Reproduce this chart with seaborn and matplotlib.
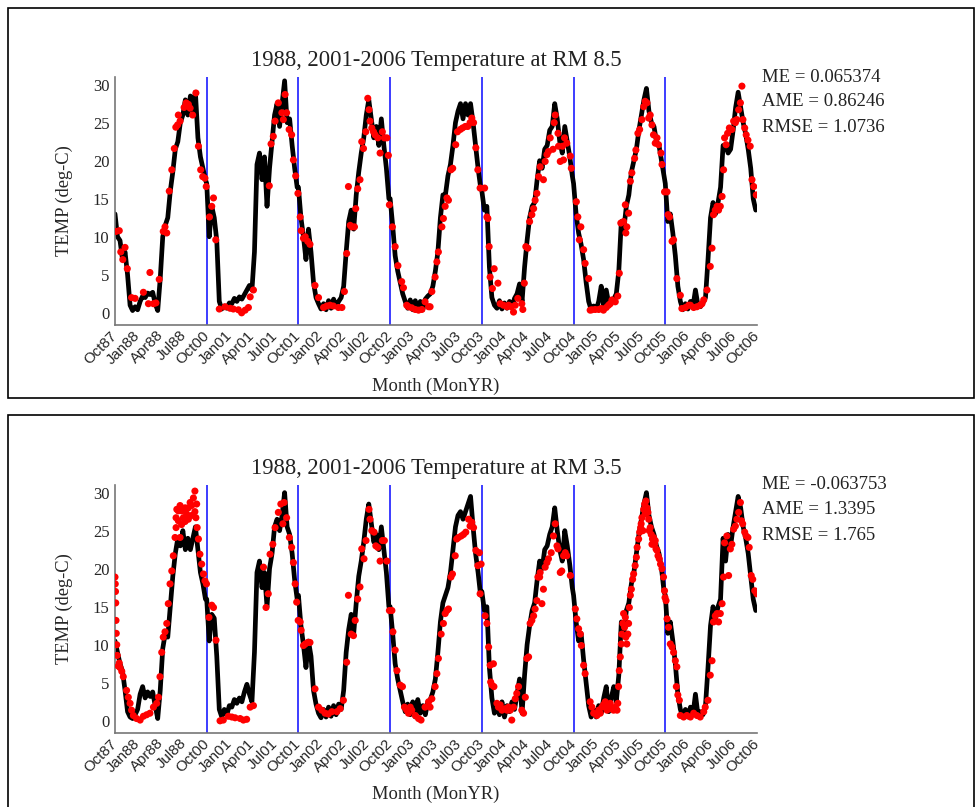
import pandas as pd
import matplotlib
matplotlib.use("Agg")
import matplotlib.pyplot as plt
import seaborn as sns
from matplotlib.patches import Rectangle

# water years shown side by side (Oct-Sep), black line sampled every 10 days
water_years = ['1988', '2001', '2002', '2003', '2004', '2005', '2006']
tick_labels = ['Oct87', 'Jan88', 'Apr88', 'Jul88',
               'Oct00', 'Jan01', 'Apr01', 'Jul01',
               'Oct01', 'Jan02', 'Apr02', 'Jul02',
               'Oct02', 'Jan03', 'Apr03', 'Jul03',
               'Oct03', 'Jan04', 'Apr04', 'Jul04',
               'Oct04', 'Jan05', 'Apr05', 'Jul05',
               'Oct05', 'Jan06', 'Apr06', 'Jul06', 'Oct06']

# ---- RM 8.5 modelled temperature
rm85_1988 = [13, 10, 9.5, 7, 8, 5, 1, 0.3, 0.8, 0.4, 1.5, 2.2, 2, 2.6, 2.4, 2.7, 1.2, 0.3, 4.5, 10,
             11.5, 12.5, 16, 18.5, 21.5, 22.5, 25, 26, 28, 26, 28.5, 26.5, 29, 23, 20.5, 19, 17.5]
rm85_2001 = [17, 10, 14, 12.5, 9.5, 1.5, 0.5, 0.9, 0.6, 1.3, 1.2, 1.9, 1.5, 2.1, 1.8, 2.4, 3, 3.6, 3, 8,
             19.5, 21, 17.5, 20.5, 14, 19, 22.5, 26, 27.5, 24.5, 27.5, 30.5, 25, 25.5, 22, 19, 16.5]
rm85_2002 = [16.5, 12.5, 10, 7, 11, 8, 4, 2, 1.2, 0.5, 1.2, 0.4, 1.6, 0.6, 1.8, 0.8, 1.5, 2, 3.5, 8,
             12, 13.5, 11, 15.5, 18.5, 21, 23, 26, 28, 25.5, 23, 24.5, 22, 25.5, 22, 19, 15]
rm85_2003 = [15, 11.5, 7.5, 5.5, 4, 2.5, 1.5, 0.6, 1.7, 0.4, 1.6, 0.6, 1.5, 0.4, 1.8, 2.2, 2.5, 3.5, 5.5, 8,
             12.5, 15.5, 15.5, 18, 19.5, 22, 25, 26.5, 27.5, 25.5, 27.5, 26, 27.5, 25, 22, 19, 16.5]
rm85_2004 = [16, 13.5, 14, 6, 2, 1, 0.6, 1.6, 0.5, 1.3, 0.6, 1.5, 0.8, 1.9, 2.5, 3.8, 1.5, 6, 9.5, 12.5,
             14, 14.5, 17.5, 20, 19, 21.5, 22, 24, 24.5, 27.5, 25.5, 22.5, 21, 24.5, 22.5, 20.5, 18]
rm85_2005 = [17, 13, 10.5, 9, 7, 4, 1.5, 0.4, 0.9, 0.4, 1.5, 3.5, 1, 3, 1.2, 1.5, 1.8, 2.5, 5.5, 12,
             11, 14, 15.5, 18.5, 20, 21.5, 24, 26, 28, 29.5, 26.5, 25, 24.5, 22.5, 22, 20, 18]
rm85_2006 = [17, 12, 13, 10.5, 7.5, 3.5, 1.5, 0.4, 1.2, 0.5, 1.5, 0.8, 3, 1, 0.8, 1.3, 2, 7, 12.5, 14.5,
             13, 14.5, 16.5, 22, 22, 21, 21.5, 24, 27, 29, 27, 25, 23.5, 21.5, 19, 15, 13.5]

# ---- RM 8.5 observations (day of water year, temp)
rm85_obs_1988 = [(4, 10.7), (17, 10.8), (23, 8), (31, 7), (40, 8.6), (49, 5.8), (66, 2), (80, 1.9),
                 (113, 2.7), (139, 5.3), (133, 1.2), (153, 1.2), (163, 1.3), (176, 4.4), (192, 10.7),
                 (199, 11.3), (206, 10.5), (216, 16), (226, 18.8), (236, 21.6), (242, 24.4), (249, 24.7),
                 (252, 26), (259, 25.2), (275, 27), (283, 27.6), (292, 27.4), (299, 26.9), (309, 26),
                 (322, 28.9), (332, 21.9), (341, 18.8), (349, 17.9), (358, 17.7), (363, 16.6)]
rm85_obs_2001 = [(11, 12.6), (20, 14), (27, 15.1), (36, 9.6), (50, 0.5), (73, 0.8), (93, 0.6), (106, 0.5),
                 (126, 0.4), (139, 0), (153, 0.35), (166, 0.7), (173, 2.1), (186, 3), (249, 16.7),
                 (256, 22.2), (265, 23.2), (272, 25.2), (285, 27.6), (299, 26.3), (305, 25.4), (312, 28.7),
                 (318, 26.3), (328, 24.1), (338, 23.4), (345, 20.1), (354, 18), (363, 15.7)]
rm85_obs_2002 = [(7, 12.6), (11, 10.8), (20, 9.8), (27, 10), (37, 9.4), (46, 9), (66, 3.6), (80, 2),
                 (100, 0.7), (113, 0.9), (126, 1), (139, 0.9), (159, 0.7), (173, 0.7), (183, 2.8),
                 (192, 7.8), (199, 16.6), (206, 11.5), (212, 11.3), (223, 11.3), (228, 13.7), (236, 16.3),
                 (245, 17.5), (252, 22.5), (259, 21.6), (268, 23.8), (276, 28.2), (281, 26.7), (285, 25.2),
                 (292, 24.3), (299, 23.8), (305, 23.4), (316, 23), (325, 21), (334, 23.8), (342, 23),
                 (352, 23), (358, 20.7), (362, 14.2)]
rm85_obs_2003 = [(9, 11.3), (20, 8.7), (31, 6.2), (46, 4.1), (53, 3.3), (66, 1), (73, 0.8), (86, 0.66),
                 (100, 0.44), (113, 0.35), (126, 0.44), (139, 1.45), (153, 0.8), (159, 0.8), (166, 2.8),
                 (179, 4.7), (186, 6.7), (192, 8), (206, 11.3), (212, 12.4), (219, 14), (226, 15.1),
                 (232, 14.8), (242, 18.8), (249, 19), (261, 22.1), (268, 23.8), (279, 24.1), (288, 24.3),
                 (299, 24.5), (309, 24.5), (318, 25), (325, 25.6), (332, 25), (341, 21.7), (349, 18.8),
                 (358, 16.4)]
rm85_obs_2004 = [(11, 16.4), (20, 12.6), (24, 12.4), (29, 8.7), (33, 4.7), (42, 3.2), (49, 5.8), (64, 3.9),
                 (73, 1.2), (86, 1), (100, 0.8), (106, 1), (117, 0.8), (126, 0.1), (133, 1), (143, 1.9),
                 (159, 1.2), (163, 0.44), (169, 3.9), (175, 8.7), (183, 8.5), (190, 12), (199, 12.9),
                 (206, 13.7), (212, 14.8), (219, 15.7), (226, 17.9), (232, 19.2), (245, 17.5), (252, 19.9),
                 (259, 20.8), (265, 21.2), (272, 23), (283, 21.5), (288, 25), (292, 26), (303, 23.6),
                 (305, 21.9), (312, 19.9), (321, 21.9), (325, 20.1), (329, 23), (338, 22.3), (352, 20.6),
                 (356, 19)]
rm85_obs_2005 = [(11, 14.6), (17, 12.6), (23, 9.6), (29, 11.3), (40, 8.3), (46, 6.5), (60, 4.5), (66, 0.35),
                 (73, 0.4), (86, 0.44), (100, 0.44), (110, 0.57), (119, 0.35), (130, 0.7), (139, 1),
                 (146, 1.2), (153, 1.7), (166, 1.45), (176, 2.2), (182, 5.2), (188, 11.8), (199, 12),
                 (206, 14.2), (208, 10.5), (212, 11.3), (219, 13.1), (226, 17.3), (232, 18.4), (243, 20.3),
                 (248, 21.4), (256, 23.6), (263, 24.1), (272, 25.4), (279, 27.1), (285, 27.8), (292, 27.6),
                 (299, 25.6), (305, 26), (312, 24.7), (318, 23.4), (325, 22.3), (332, 23), (338, 22.1),
                 (348, 21), (352, 19.5), (362, 15.9)]
rm85_obs_2006 = [(7, 15.9), (11, 12.9), (17, 12.6), (27, 9.4), (33, 9.6), (46, 4.5), (60, 2.3), (66, 0.57),
                 (80, 0.7), (93, 1), (100, 1), (113, 0.7), (126, 0.8), (139, 1), (146, 1.2), (153, 1.7),
                 (166, 3), (179, 6.1), (186, 8.5), (192, 12.9), (199, 13.5), (206, 14), (212, 13.5),
                 (219, 14), (226, 15.3), (232, 18.8), (236, 23), (242, 22.1), (248, 23.6), (255, 24.3),
                 (265, 24.1), (272, 25.2), (279, 25), (285, 25.4), (292, 26.7), (299, 27.6), (305, 29.8),
                 (309, 25.4), (316, 24.3), (322, 23.4), (329, 22.7), (338, 21.9), (345, 17.5), (352, 16.6),
                 (362, 15.5)]

# ---- RM 3.5 modelled temperature
rm35_1988 = [10.5, 9, 7.5, 6.5, 4, 1.2, 0.5, 0.3, 0.8, 1.5, 3.5, 4.5, 3, 3.8, 3.2, 3.8, 2, 0.3, 4, 9.5,
             11.5, 11, 15, 19, 22, 24, 23, 25, 22.5, 24, 22.5, 24, 25.5, 22.5, 19.5, 18, 16]
rm35_2001 = [16, 10.5, 14, 13.5, 8.5, 1.5, 0.5, 1.5, 0.8, 2, 1.8, 2.8, 2.3, 3, 2.5, 3.8, 4.8, 3.5, 2.5, 9,
             19.5, 21, 17.5, 19.5, 15, 20, 22, 25.5, 26.5, 25, 27, 30, 25.5, 24.5, 22, 18.5, 16]
rm35_2002 = [16.5, 12.5, 10, 7, 10.5, 8.5, 4, 2.2, 1, 0.4, 1.5, 0.5, 1.8, 0.6, 2, 0.8, 2.2, 1.5, 4, 9,
             12, 14, 11.5, 15.5, 19, 21, 23.5, 26.5, 28.5, 26, 23.5, 24.5, 22.5, 25.5, 22.5, 19.5, 15]
rm35_2003 = [15, 11.5, 7.5, 5.5, 4, 2.5, 1.2, 2.2, 0.8, 2.5, 0.5, 2.8, 1, 2, 0.8, 2.5, 2.8, 3.8, 5.5, 9,
             13, 15.5, 16.5, 17.5, 19.5, 22.5, 25.5, 27, 27.5, 26.5, 27.5, 28.5, 29.5, 25.5, 22, 19.5, 16.5]
rm35_2004 = [17, 14.5, 15, 7, 3, 1, 2, 0.8, 2.5, 0.5, 2, 1.2, 2.5, 1.5, 3.5, 5.5, 1, 6, 10, 12.5,
             14.5, 15.5, 18.5, 21, 20, 22.5, 23, 24.5, 25.5, 28, 25, 22.5, 21, 25, 23, 20.5, 17.5]
rm35_2005 = [16.5, 13, 10.5, 11.5, 8, 5, 2, 0.5, 1.5, 0.5, 2, 1, 3, 4.5, 1.2, 3, 4.5, 2.5, 6, 13,
             11.5, 14.5, 15.5, 18, 19.5, 22, 24.5, 26.5, 28.5, 30, 27, 25.5, 24.5, 23, 22, 20, 17]
rm35_2006 = [16.5, 11.5, 13, 10.5, 7.5, 3.5, 1.5, 0.5, 1.5, 0.5, 1.8, 0.8, 3.5, 0.8, 1.2, 0.8, 2, 7, 12.5, 15,
             13.5, 15, 16, 24, 21, 24.5, 23, 25.5, 27.5, 29.5, 28, 25.5, 24, 22, 19, 16, 14.5]

# ---- RM 3.5 observations (day of water year, temp)
rm35_obs_1988 = [(0, 18.9), (1, 18.0), (2, 17.0), (3, 15.5), (4, 13.2), (5, 11.5), (7, 10.0), (9, 8.6),
                 (13, 7.2), (17, 7.6), (20, 7.0), (27, 6.5), (33, 5.8), (46, 4.0), (53, 3.1), (60, 2.3),
                 (66, 1.4), (73, 0.7), (86, 0.3), (100, 0.1), (113, 0.6), (126, 0.8), (139, 1.0), (153, 1.8),
                 (166, 2.3), (173, 3.1), (179, 5.8), (186, 9.0), (192, 11.0), (199, 11.7), (206, 12.8),
                 (212, 15.4), (219, 18.0), (226, 19.7), (232, 21.7), (239, 24.1), (243, 26.7), (246, 27.8),
                 (252, 27.6), (259, 28.3), (265, 27.6), (272, 26.7), (279, 28.0), (285, 27.2), (292, 28.0),
                 (299, 28.7), (305, 28.3), (312, 29.3), (318, 30.2), (322, 26.7), (327, 25.4), (332, 23.9),
                 (338, 21.9), (345, 20.6), (352, 19.3), (358, 18.4), (364, 18.0), (243, 25.4), (252, 26.3),
                 (259, 24.1), (265, 25.8), (279, 26.2), (292, 26.5), (305, 27.0), (318, 27.5), (325, 28.5)]
rm35_obs_2001 = [(9, 13.6), (20, 15.2), (27, 14.9), (37, 10.6), (53, 0), (66, 0.1), (86, 0.6), (100, 0.5),
                 (113, 0.4), (133, 0.3), (146, 0.1), (159, 0.2), (173, 1.8), (186, 2), (226, 20.2),
                 (236, 14.9), (245, 16.7), (252, 21.9), (263, 23.2), (272, 25.4), (285, 27.4), (295, 28.5),
                 (303, 25.9), (308, 28.7), (318, 26.7), (329, 24.1), (338, 22.8), (345, 20.8), (352, 18),
                 (358, 15.6), (364, 13.2)]
rm35_obs_2002 = [(7, 13), (11, 11.9), (20, 9.9), (27, 10.1), (37, 10.3), (46, 10.3), (66, 4.2), (80, 1.8),
                 (93, 1.4), (106, 1), (119, 0.9), (133, 1.2), (153, 1.2), (166, 1.6), (179, 2.7), (192, 7.7),
                 (199, 16.5), (210, 11.4), (219, 11.2), (226, 13.2), (236, 16), (245, 17.6), (252, 22.6),
                 (261, 21.3), (269, 23.7), (281, 27.8), (285, 26.5), (292, 25), (301, 24.8), (308, 23),
                 (316, 22.8), (325, 21), (334, 23.7), (342, 23.7), (352, 21), (362, 14.5)]
rm35_obs_2003 = [(7, 14.5), (11, 11.7), (20, 9.3), (27, 6.6), (40, 4.7), (49, 4.5), (57, 1.8), (66, 1.4),
                 (73, 1), (80, 1.8), (86, 1.4), (100, 0.7), (113, 0.3), (123, 0.1), (139, 1.8), (153, 2.5),
                 (159, 1.8), (166, 2.9), (179, 4.5), (186, 6.2), (192, 8.2), (203, 11.4), (212, 12.8),
                 (219, 14.1), (226, 14.5), (232, 14.7), (242, 18.9), (248, 19.3), (259, 21.7), (265, 23.9),
                 (272, 24.1), (283, 24.3), (292, 24.5), (301, 24.8), (312, 26.5), (318, 25.6), (325, 26.1),
                 (332, 25.4), (341, 22.4), (349, 20.4), (355, 22.1), (358, 16.7), (362, 20.6)]
rm35_obs_2004 = [(13, 13.8), (20, 12.8), (27, 9.7), (33, 7.3), (46, 7.5), (35, 5.1), (40, 4.7), (48, 4.5),
                 (60, 2.3), (66, 1.8), (73, 2.1), (80, 1.4), (93, 1.6), (100, 1.4), (106, 1.8), (113, 1.4),
                 (119, 0.1), (126, 1.8), (133, 2.9), (139, 3.6), (146, 4.5), (159, 1.4), (166, 1), (173, 3.1),
                 (179, 8.2), (186, 8.4), (192, 12.8), (199, 13.2), (206, 13.8), (212, 14.7), (219, 15.8),
                 (223, 18.9), (230, 18.9), (232, 19.5), (239, 15.4), (245, 17.3), (252, 20.2), (259, 20.8),
                 (265, 21.3), (276, 22.1), (285, 24.3), (292, 25.9), (299, 23), (303, 22.6), (312, 19.5),
                 (318, 19.7), (325, 21.7), (332, 22.1), (338, 21.7), (352, 19.1)]
rm35_obs_2005 = [(7, 14.7), (13, 13.4), (20, 12.1), (27, 11.4), (31, 9.9), (40, 7.3), (46, 6.2), (66, 2.5),
                 (73, 1.8), (80, 1), (93, 0.7), (100, 1.4), (106, 1), (113, 1.8), (119, 2.1), (126, 2.5),
                 (133, 1.4), (139, 1.8), (146, 2.3), (153, 1.6), (159, 1.4), (166, 1.8), (173, 1.4),
                 (176, 2.3), (179, 4.5), (182, 6.6), (186, 8.4), (190, 10.1), (192, 11.4), (196, 12.8),
                 (199, 14.1), (203, 12.3), (206, 13.6), (208, 11), (212, 10.1), (216, 11.4), (219, 12.8),
                 (222, 14.9), (226, 16.5), (230, 17.3), (235, 18.6), (239, 19.3), (245, 20.4), (250, 21.5),
                 (253, 22.8), (259, 23.9), (263, 24.8), (267, 25.4), (272, 26.7), (279, 27.8), (283, 28.5),
                 (288, 28.9), (292, 28), (296, 27.4), (299, 26.5), (305, 25.4), (309, 24.5), (314, 23.9),
                 (318, 24.1), (322, 23.2), (328, 22.6), (332, 22.4), (336, 21.7), (341, 21.3), (346, 20.6),
                 (352, 20), (358, 18.9), (362, 17.1), (364, 16.2), (269, 25.9), (285, 27.2), (301, 25),
                 (312, 23.2), (325, 23.7), (276, 25)]
rm35_obs_2006 = [(3, 15.8), (7, 13.4), (13, 12.3), (20, 10.1), (27, 9.7), (33, 9), (40, 7.9), (46, 7.1),
                 (44, 4.5), (50, 3.4), (56, 2.7), (60, 0.7), (73, 0.5), (86, 0.7), (100, 0.5), (113, 1),
                 (126, 0.7), (139, 0.5), (153, 1.2), (159, 1.8), (170, 2.7), (179, 6), (186, 7.9), (192, 13),
                 (199, 13.8), (206, 14.1), (212, 13), (219, 14.1), (226, 15.4), (232, 18.9), (236, 23.4),
                 (245, 24.3), (252, 19.1), (259, 22.6), (265, 23.2), (272, 25.2), (279, 25.6), (285, 26.5),
                 (292, 27.4), (299, 28.7), (303, 26.3), (308, 25.9), (316, 24.8), (322, 24.3), (329, 24.1),
                 (334, 22.8), (342, 19.1), (348, 18.6), (356, 17.1), (364, 16.7)]

panels = [
    {'title': '1988, 2001-2006 Temperature at RM 8.5',
     'line': [rm85_1988, rm85_2001, rm85_2002, rm85_2003, rm85_2004, rm85_2005, rm85_2006],
     'obs': [rm85_obs_1988, rm85_obs_2001, rm85_obs_2002, rm85_obs_2003, rm85_obs_2004,
             rm85_obs_2005, rm85_obs_2006],
     'stats': ['ME = 0.065374', 'AME = 0.86246', 'RMSE = 1.0736']},
    {'title': '1988, 2001-2006 Temperature at RM 3.5',
     'line': [rm35_1988, rm35_2001, rm35_2002, rm35_2003, rm35_2004, rm35_2005, rm35_2006],
     'obs': [rm35_obs_1988, rm35_obs_2001, rm35_obs_2002, rm35_obs_2003, rm35_obs_2004,
             rm35_obs_2005, rm35_obs_2006],
     'stats': ['ME = -0.063753', 'AME = 1.3395', 'RMSE = 1.765']},
]

YEAR_DAYS = 365
STEP = 10


def to_frames(line_years, obs_years):
    line_rows, obs_rows = [], []
    for i, vals in enumerate(line_years):
        for k, v in enumerate(vals):
            line_rows.append((i * YEAR_DAYS + k * STEP, v))
    for i, pts in enumerate(obs_years):
        for d, v in pts:
            obs_rows.append((i * YEAR_DAYS + d, v))
    return (pd.DataFrame(line_rows, columns=['day', 'temp']),
            pd.DataFrame(obs_rows, columns=['day', 'temp']))


sns.set_theme(style='white')
plt.rcParams['font.family'] = ['Liberation Serif', 'DejaVu Serif']

W, H = 975, 807
fig = plt.figure(figsize=(W / 100, H / 100), dpi=100)

# panel frames (pixel boxes from the reference)
fig.patches.append(Rectangle((8 / W, 1 - 398 / H), 966 / W, 390 / H, transform=fig.transFigure,
                             fill=False, ec='black', lw=1.2))
fig.patches.append(Rectangle((8 / W, -0.01), 966 / W, 1 - 415 / H + 0.01, transform=fig.transFigure,
                             fill=False, ec='black', lw=1.2))

axes_top = [77, 485]
total_days = YEAR_DAYS * len(water_years)
tick_pos = [i * total_days / (len(tick_labels) - 1) for i in range(len(tick_labels))]

for panel, top_px in zip(panels, axes_top):
    ax = fig.add_axes([115 / W, 1 - (top_px + 248) / H, 642 / W, 248 / H])
    line_df, obs_df = to_frames(panel['line'], panel['obs'])

    sns.lineplot(data=line_df, x='day', y='temp', color='black', linewidth=3.4, ax=ax, zorder=2)
    sns.scatterplot(data=obs_df, x='day', y='temp', color='#ff0000', s=26, edgecolor='none',
                    ax=ax, zorder=3)
    for i in range(1, len(water_years)):
        ax.axvline(i * YEAR_DAYS, color='#3c3cff', lw=1.4, zorder=1)

    ax.set_xlim(0, total_days)
    ax.set_ylim(-1.6, 31)
    ax.set_yticks([0, 5, 10, 15, 20, 25, 30])
    ax.set_xticks(tick_pos)
    ax.set_xticklabels(tick_labels, rotation=45, ha='right', va='center', rotation_mode='anchor',
                       family='Liberation Sans', fontsize=10.8)
    ax.tick_params(axis='x', direction='in', length=5, pad=6, color='#666666')
    ax.tick_params(axis='y', direction='in', length=5, pad=4, labelsize=12, color='#666666')
    for side in ['top', 'right']:
        ax.spines[side].set_visible(False)
    for side in ['left', 'bottom']:
        ax.spines[side].set_color('#777777')
        ax.spines[side].set_linewidth(1.2)

    ax.set_title(panel['title'], fontsize=16.3, pad=8, color='#222222')
    ax.set_ylabel('TEMP (deg-C)', fontsize=13.3, labelpad=14)
    ax.set_xlabel('Month (MonYR)', fontsize=13.3)
    ax.xaxis.set_label_coords(0.5, -53 / 248)

    for j, s in enumerate(panel['stats']):
        ax.text(1.008, 1.0 - j * 25 / 248, s, transform=ax.transAxes, fontsize=13.5,
                va='center', ha='left', color='#222222')

fig.savefig('out.png', dpi=100)
plt.close(fig)
